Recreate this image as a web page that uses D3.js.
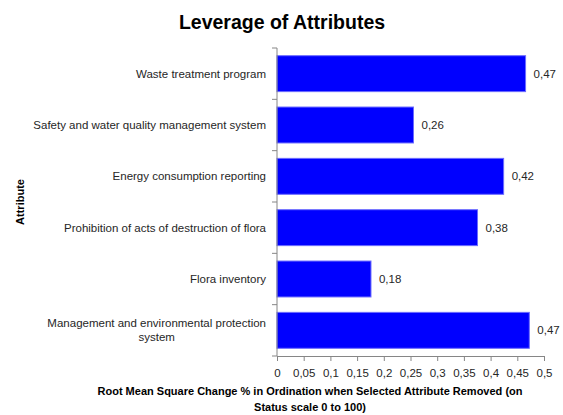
<!DOCTYPE html>
<html>
<head>
<meta charset="utf-8">
<script src="https://cdn.jsdelivr.net/npm/d3@7"></script>
<style>
  body { margin: 0; background: #fff; }
  svg { font-family: "Liberation Sans", Arial, sans-serif; }
</style>
</head>
<body>
<svg id="chart" width="563" height="415"></svg>
<script>
// data
var categories = [
  "Waste treatment program",
  "Safety and water quality management system",
  "Energy consumption reporting",
  "Prohibition of acts of destruction of flora",
  "Flora inventory",
  "Management and environmental protection system"
]
var values = [0.4655, 0.2556, 0.4244, 0.3755, 0.176, 0.4725]
var xTicks = [0, 0.05, 0.1, 0.15, 0.2, 0.25, 0.3, 0.35, 0.4, 0.45, 0.5]

var dataset = categories.map((c, i) => ({name: c, value: values[i]}))

var margin = {top: 48, right: 19, bottom: 59, left: 277},
    width = 563 - margin.left - margin.right,
    height = 415 - margin.top - margin.bottom

var comma = v => d3.format(".2f")(v).replace(".", ",")
var tickFmt = v => String(v).replace(".", ",")

var svg = d3.select("#chart")

var chart = svg.append("g")
    .attr("transform", "translate(" + margin.left + "," + margin.top + ")")

var xScale = d3.scaleLinear()
    .domain([0, 0.5])
    .range([0, width])

var yBand = d3.scaleBand()
    .domain(categories)
    .range([0, height])
    .paddingInner(0.3)
    .paddingOuter(0.15)

// bars
chart.selectAll(".bar")
    .data(dataset)
    .enter().append("rect")
    .attr("class", "bar")
    .attr("x", xScale(0))
    .attr("y", d => yBand(d.name))
    .attr("width", d => xScale(d.value))
    .attr("height", yBand.bandwidth())
    .attr("fill", "#0000ff")
    .attr("stroke", "#6b6bff")
    .attr("stroke-width", 1)

// value labels
chart.selectAll(".val")
    .data(dataset)
    .enter().append("text")
    .attr("class", "val")
    .attr("x", d => xScale(d.value) + 8)
    .attr("y", d => yBand(d.name) + yBand.bandwidth() / 2)
    .attr("dy", "0.35em")
    .attr("font-size", "11.5px")
    .attr("fill", "#262626")
    .text(d => comma(d.value))

// x axis
var xAxis = d3.axisBottom(xScale)
    .tickValues(xTicks)
    .tickSize(5)
    .tickSizeOuter(0)
    .tickFormat(tickFmt)

var gx = chart.append("g")
    .attr("class", "x axis")
    .attr("transform", "translate(0," + height + ")")
    .call(xAxis)
gx.select(".domain").attr("stroke", "#868686")
gx.selectAll(".tick line").attr("stroke", "#868686")
gx.selectAll(".tick text")
    .attr("font-size", "11.5px")
    .attr("fill", "#262626")
    .attr("font-family", "Liberation Sans, Arial, sans-serif")
    .attr("dy", "1.15em")

// y axis: ticks at the band boundaries
var boundaries = d3.range(categories.length + 1).map(i => i * height / categories.length)
var gy = chart.append("g").attr("class", "y axis")
gy.append("line")
    .attr("x1", 0).attr("x2", 0)
    .attr("y1", 0).attr("y2", height)
    .attr("stroke", "#868686")
gy.selectAll(".ytick")
    .data(boundaries)
    .enter().append("line")
    .attr("x1", -5).attr("x2", 0)
    .attr("y1", d => d).attr("y2", d => d)
    .attr("stroke", "#868686")

// category labels (wrap the long one, lines centred on each other)
var wraps = {
  "Management and environmental protection system": ["Management and environmental protection", "system"]
}
chart.selectAll(".cat")
    .data(categories)
    .enter().append("text")
    .attr("class", "cat")
    .attr("font-size", "11.5px")
    .attr("fill", "#262626")
    .each(function(c) {
      var lines = wraps[c] || [c]
      var cy = yBand(c) + yBand.bandwidth() / 2
      var el = d3.select(this)
      if (lines.length == 1) {
        el.attr("text-anchor", "end")
          .attr("x", -11).attr("y", cy).attr("dy", "0.35em").text(c)
        return
      }
      // measure first line to find the centre
      el.text(lines[0])
      var w = this.getComputedTextLength()
      el.text(null).attr("text-anchor", "middle")
      lines.forEach((l, i) => {
        el.append("tspan")
          .attr("x", -11 - w / 2)
          .attr("y", cy + (i - (lines.length - 1) / 2) * 14)
          .attr("dy", "0.35em")
          .text(l)
      })
    })

// title
svg.append("text")
    .attr("x", 282)
    .attr("y", 29)
    .attr("text-anchor", "middle")
    .attr("font-size", "19.5px")
    .attr("font-weight", "bold")
    .attr("fill", "#000")
    .text("Leverage of Attributes")

// y axis title
svg.append("text")
    .attr("transform", "translate(24," + (margin.top + height / 2) + ") rotate(-90)")
    .attr("text-anchor", "middle")
    .attr("font-size", "11px")
    .attr("font-weight", "bold")
    .attr("fill", "#000")
    .text("Attribute")

// x axis title
var xt = svg.append("text")
    .attr("text-anchor", "middle")
    .attr("font-size", "11px")
    .attr("font-weight", "bold")
    .attr("fill", "#000")
xt.append("tspan").attr("x", 310).attr("y", 395)
    .text("Root Mean Square Change % in Ordination when Selected Attribute Removed (on")
xt.append("tspan").attr("x", 310).attr("y", 411)
    .text("Status scale 0 to 100)")
</script>
</body>
</html>
